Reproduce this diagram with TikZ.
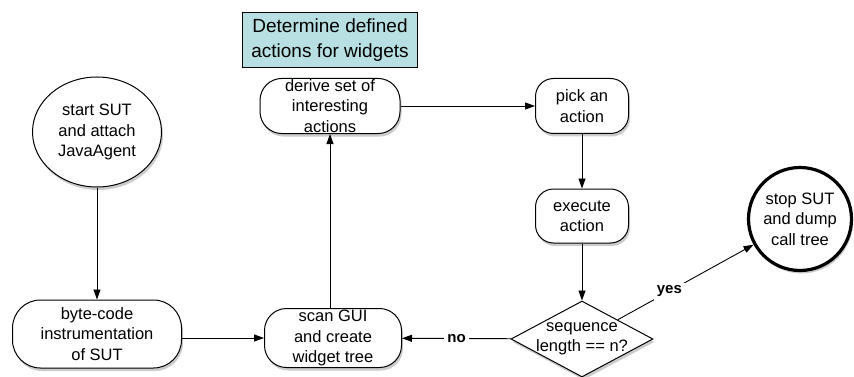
\documentclass[tikz,border=0pt]{standalone}
\usepackage{fontspec}
\setmainfont{Liberation Sans}
\usepackage{tikz}
\usetikzlibrary{arrows.meta,shapes,shadows,positioning}
\definecolor{boxblue}{RGB}{184,224,227}
\tikzset{
  flowbox/.style={draw,line width=1pt,rounded corners=18pt,fill=white,align=center,
    font=\fontsize{16.5}{20.5}\selectfont,inner sep=1pt,
    drop shadow={shadow xshift=1.5pt,shadow yshift=-3pt,opacity=0.4}},
  flowarrow/.style={line width=0.9pt,-{Triangle[length=10pt,width=7pt]}},
  answer/.style={font=\bfseries\fontsize{15}{17}\selectfont,fill=white,inner sep=3pt}
}
\begin{document}
\begin{tikzpicture}[x=1pt,y=-1pt]
\useasboundingbox (0,0) rectangle (854,377);
%%%%% heading
\node[draw,line width=0.6pt,fill=boxblue,align=center,minimum width=175pt,minimum height=55pt,inner sep=1pt,
  font=\fontsize{19}{25}\selectfont] (head) at (330,40) {Determine defined\\actions for widgets};
%%%%% nodes:
\node[ellipse,draw,line width=1pt,fill=white,align=center,minimum width=129pt,minimum height=110pt,inner sep=0pt,
  font=\fontsize{16.5}{20.5}\selectfont,drop shadow={shadow xshift=1.5pt,shadow yshift=-3pt,opacity=0.4}]
  (start) at (97,132) {start SUT\\and attach\\JavaAgent};
\node[flowbox,minimum width=169pt,minimum height=68pt,rounded corners=28pt] (instr) at (97,334) {byte-code\\instrumentation\\of SUT};
\node[flowbox,minimum width=137pt,minimum height=59pt,rounded corners=22pt] (scan) at (333,338) {scan GUI\\and create\\widget tree};
\node[flowbox,minimum width=140pt,minimum height=55pt,rounded corners=22pt] (derive) at (330,106) {derive set of\\interesting\\actions};
\node[flowbox,minimum width=93pt,minimum height=55pt] (pick) at (582,106) {pick an\\action};
\node[flowbox,minimum width=93pt,minimum height=54pt] (exec) at (582,216) {execute\\action};
\node[diamond,draw,line width=1pt,fill=white,align=center,aspect=1.87,minimum width=142pt,minimum height=76pt,inner sep=-10pt,
  font=\fontsize{16.5}{20.5}\selectfont,drop shadow={shadow xshift=1.5pt,shadow yshift=-3pt,opacity=0.4}]
  (check) at (582,339) {sequence\\length == n?};
\node[circle,draw,line width=3.2pt,fill=white,align=center,minimum size=103pt,inner sep=0pt,
  font=\fontsize{16.5}{20.5}\selectfont,drop shadow={shadow xshift=1.5pt,shadow yshift=-3pt,opacity=0.4}]
  (stop) at (800,219) {stop SUT\\and dump\\call tree};
%%%%% connectors:
\draw[flowarrow] (start) -- (instr);
\draw[flowarrow] (scan.west -| instr.east) -- (scan.west);
\draw[flowarrow] (scan.north -| derive.south) -- (derive.south);
\draw[flowarrow] (derive) -- (pick);
\draw[flowarrow] (pick) -- (exec);
\draw[flowarrow] (exec) -- (check);
\draw[flowarrow] (check) -- node[answer] {no} (scan);
\draw[flowarrow] (check.north east) -- node[answer,pos=0.38] {yes} (stop);
\end{tikzpicture}
\end{document}
